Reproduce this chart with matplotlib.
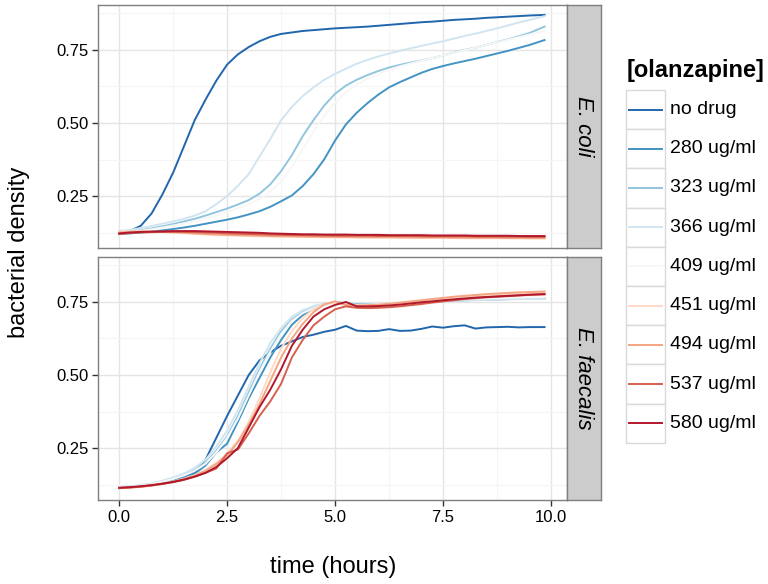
"""
Curvas de crecimiento bacteriano con olanzapina
Dos paneles (E. coli / E. faecalis) al estilo theme_bw de ggplot
"""
import numpy as np
import matplotlib
matplotlib.use('Agg')
import matplotlib.pyplot as plt
from matplotlib.patches import Rectangle

plt.rcParams['font.family'] = ['Liberation Sans', 'DejaVu Sans']

# Datos
time_h = [0.0, 0.25, 0.5, 0.75, 1.0, 1.25, 1.5, 1.75, 2.0, 2.25,
          2.5, 2.75, 3.0, 3.25, 3.5, 3.75, 4.0, 4.25, 4.5, 4.75,
          5.0, 5.25, 5.5, 5.75, 6.0, 6.25, 6.5, 6.75, 7.0, 7.25,
          7.5, 7.75, 8.0, 8.25, 8.5, 8.75, 9.0, 9.25, 9.5, 9.85]

doses = ['no drug', '280 ug/ml', '323 ug/ml', '366 ug/ml', '409 ug/ml',
         '451 ug/ml', '494 ug/ml', '537 ug/ml', '580 ug/ml']
dose_colors = ['#2166AC', '#4393C3', '#92C5DE', '#D1E5F0', '#F7F7F7',
               '#FDDBC7', '#F4A582', '#D6604D', '#B2182B']
species = ['E. coli', 'E. faecalis']

# E. coli
ecoli_nodrug = [0.125, 0.13, 0.148, 0.19, 0.255, 0.33, 0.42, 0.51, 0.58, 0.645,
                0.70, 0.735, 0.76, 0.78, 0.795, 0.805, 0.81, 0.815, 0.818, 0.821,
                0.824, 0.826, 0.828, 0.830, 0.833, 0.836, 0.839, 0.842, 0.845, 0.847,
                0.850, 0.853, 0.855, 0.857, 0.860, 0.862, 0.864, 0.866, 0.868, 0.870]
ecoli_280 = [0.120, 0.122, 0.125, 0.128, 0.132, 0.137, 0.142, 0.148, 0.155, 0.162,
             0.169, 0.177, 0.187, 0.198, 0.213, 0.232, 0.252, 0.284, 0.325, 0.376,
             0.44, 0.495, 0.535, 0.568, 0.597, 0.622, 0.64, 0.656, 0.672, 0.685,
             0.695, 0.704, 0.712, 0.720, 0.729, 0.738, 0.747, 0.757, 0.767, 0.784]
ecoli_323 = [0.125, 0.128, 0.133, 0.139, 0.146, 0.154, 0.163, 0.172, 0.183, 0.195,
             0.207, 0.221, 0.236, 0.258, 0.29, 0.335, 0.39, 0.455, 0.51, 0.56,
             0.60, 0.628, 0.648, 0.664, 0.678, 0.69, 0.699, 0.707, 0.714, 0.722,
             0.731, 0.741, 0.750, 0.758, 0.767, 0.777, 0.786, 0.797, 0.808, 0.83]
ecoli_366 = [0.13, 0.134, 0.14, 0.147, 0.155, 0.163, 0.172, 0.183, 0.198, 0.222,
             0.25, 0.285, 0.325, 0.385, 0.445, 0.51, 0.555, 0.592, 0.622, 0.648,
             0.668, 0.686, 0.703, 0.716, 0.728, 0.738, 0.747, 0.756, 0.764, 0.772,
             0.780, 0.789, 0.798, 0.806, 0.815, 0.824, 0.834, 0.844, 0.853, 0.866]
ecoli_409 = [0.125, 0.127, 0.131, 0.136, 0.142, 0.149, 0.156, 0.164, 0.173, 0.183,
             0.195, 0.208, 0.222, 0.24, 0.265, 0.30, 0.35, 0.41, 0.47, 0.525,
             0.57, 0.605, 0.632, 0.652, 0.668, 0.682, 0.694, 0.704, 0.713, 0.722,
             0.731, 0.740, 0.749, 0.758, 0.767, 0.776, 0.785, 0.794, 0.803, 0.815]
ecoli_451 = [0.128, 0.129, 0.129, 0.128, 0.126, 0.124, 0.122, 0.12, 0.118, 0.116,
             0.115, 0.114, 0.113, 0.112, 0.111, 0.111, 0.11, 0.11, 0.109, 0.109,
             0.108, 0.108, 0.108, 0.107, 0.107, 0.107, 0.107, 0.106, 0.106, 0.106,
             0.106, 0.106, 0.105, 0.105, 0.105, 0.105, 0.105, 0.105, 0.104, 0.104]
ecoli_494 = [0.125, 0.127, 0.128, 0.128, 0.127, 0.126, 0.124, 0.122, 0.12, 0.118,
             0.117, 0.116, 0.115, 0.114, 0.113, 0.112, 0.112, 0.111, 0.111, 0.11,
             0.11, 0.11, 0.109, 0.109, 0.109, 0.109, 0.108, 0.108, 0.108, 0.108,
             0.108, 0.107, 0.107, 0.107, 0.107, 0.107, 0.106, 0.106, 0.106, 0.106]
ecoli_537 = [0.12, 0.123, 0.125, 0.126, 0.127, 0.127, 0.127, 0.126, 0.125, 0.124,
             0.122, 0.121, 0.12, 0.119, 0.118, 0.117, 0.116, 0.116, 0.115, 0.115,
             0.114, 0.114, 0.114, 0.114, 0.113, 0.113, 0.113, 0.113, 0.112, 0.112,
             0.112, 0.112, 0.112, 0.111, 0.111, 0.111, 0.111, 0.111, 0.11, 0.11]
ecoli_580 = [0.122, 0.125, 0.127, 0.128, 0.129, 0.13, 0.13, 0.13, 0.129, 0.128,
             0.127, 0.126, 0.125, 0.124, 0.122, 0.121, 0.12, 0.119, 0.119, 0.118,
             0.118, 0.118, 0.117, 0.117, 0.117, 0.116, 0.116, 0.116, 0.116, 0.115,
             0.115, 0.115, 0.115, 0.114, 0.114, 0.114, 0.114, 0.113, 0.113, 0.113]

# E. faecalis
faec_nodrug = [0.115, 0.117, 0.12, 0.125, 0.132, 0.14, 0.15, 0.165, 0.21, 0.285,
               0.36, 0.43, 0.50, 0.55, 0.578, 0.60, 0.615, 0.63, 0.638, 0.648,
               0.655, 0.668, 0.652, 0.65, 0.651, 0.657, 0.651, 0.652, 0.658, 0.666,
               0.662, 0.667, 0.670, 0.659, 0.663, 0.664, 0.665, 0.663, 0.664, 0.664]
faec_280 = [0.113, 0.115, 0.118, 0.123, 0.130, 0.139, 0.150, 0.162, 0.19, 0.235,
            0.265, 0.34, 0.42, 0.49, 0.56, 0.62, 0.672, 0.705, 0.725, 0.74,
            0.75, 0.745, 0.742, 0.742, 0.743, 0.744, 0.745, 0.747, 0.749, 0.751,
            0.753, 0.755, 0.756, 0.757, 0.758, 0.759, 0.760, 0.761, 0.762, 0.763]
faec_323 = [0.115, 0.117, 0.121, 0.127, 0.135, 0.145, 0.158, 0.175, 0.20, 0.24,
            0.29, 0.36, 0.44, 0.52, 0.59, 0.65, 0.69, 0.715, 0.73, 0.742,
            0.75, 0.744, 0.741, 0.741, 0.742, 0.744, 0.746, 0.748, 0.75, 0.752,
            0.754, 0.755, 0.756, 0.757, 0.758, 0.759, 0.76, 0.761, 0.762, 0.762]
faec_366 = [0.117, 0.119, 0.123, 0.129, 0.138, 0.149, 0.163, 0.182, 0.21, 0.255,
            0.31, 0.38, 0.46, 0.54, 0.61, 0.66, 0.70, 0.722, 0.736, 0.745,
            0.75, 0.743, 0.74, 0.74, 0.741, 0.743, 0.745, 0.747, 0.749, 0.751,
            0.753, 0.754, 0.755, 0.756, 0.757, 0.758, 0.759, 0.76, 0.76, 0.76]
faec_409 = [0.114, 0.116, 0.12, 0.126, 0.134, 0.144, 0.156, 0.172, 0.196, 0.235,
            0.285, 0.35, 0.43, 0.51, 0.58, 0.64, 0.685, 0.712, 0.728, 0.74,
            0.748, 0.742, 0.74, 0.741, 0.743, 0.745, 0.748, 0.75, 0.752, 0.754,
            0.756, 0.758, 0.76, 0.761, 0.762, 0.763, 0.764, 0.765, 0.766, 0.767]
faec_451 = [0.113, 0.115, 0.118, 0.122, 0.128, 0.135, 0.145, 0.157, 0.175, 0.2,
            0.23, 0.275, 0.34, 0.42, 0.51, 0.59, 0.65, 0.695, 0.725, 0.742,
            0.748, 0.738, 0.736, 0.737, 0.739, 0.742, 0.746, 0.75, 0.754, 0.758,
            0.762, 0.765, 0.768, 0.771, 0.773, 0.775, 0.777, 0.779, 0.78, 0.781]
faec_494 = [0.112, 0.114, 0.117, 0.121, 0.127, 0.134, 0.143, 0.155, 0.172, 0.195,
            0.225, 0.27, 0.33, 0.40, 0.48, 0.56, 0.625, 0.675, 0.715, 0.742,
            0.752, 0.74, 0.738, 0.739, 0.741, 0.744, 0.748, 0.752, 0.756, 0.760,
            0.764, 0.768, 0.771, 0.774, 0.777, 0.779, 0.781, 0.783, 0.784, 0.786]
faec_537 = [0.113, 0.115, 0.118, 0.122, 0.127, 0.133, 0.141, 0.152, 0.165, 0.18,
            0.232, 0.245, 0.30, 0.36, 0.41, 0.47, 0.56, 0.62, 0.67, 0.70,
            0.725, 0.735, 0.73, 0.729, 0.73, 0.732, 0.735, 0.739, 0.743, 0.748,
            0.752, 0.756, 0.76, 0.763, 0.766, 0.768, 0.77, 0.772, 0.774, 0.776]
faec_580 = [0.114, 0.116, 0.119, 0.123, 0.128, 0.134, 0.142, 0.152, 0.165, 0.185,
            0.215, 0.25, 0.32, 0.39, 0.45, 0.52, 0.60, 0.655, 0.70, 0.725,
            0.74, 0.75, 0.735, 0.735, 0.736, 0.738, 0.741, 0.745, 0.749, 0.752,
            0.756, 0.759, 0.762, 0.765, 0.767, 0.769, 0.771, 0.773, 0.775, 0.777]

ecoli_series = [ecoli_nodrug, ecoli_280, ecoli_323, ecoli_366, ecoli_409,
                ecoli_451, ecoli_494, ecoli_537, ecoli_580]
faec_series = [faec_nodrug, faec_280, faec_323, faec_366, faec_409,
               faec_451, faec_494, faec_537, faec_580]

x_ticks = [0.0, 2.5, 5.0, 7.5, 10.0]
y_ticks = [0.25, 0.50, 0.75]

# Figura (pixeles -> fracciones)
W, H = 768, 584
fig = plt.figure(figsize=(W / 100, H / 100), dpi=100)


def px_box(x0, y0, x1, y1):
    return [x0 / W, 1 - y1 / H, (x1 - x0) / W, (y1 - y0) / H]


panel_boxes = [(98, 5, 567, 248), (98, 257, 567, 500)]
grey_border = '#7F7F7F'

for i, (name, series) in enumerate(zip(species, [ecoli_series, faec_series])):
    x0, y0, x1, y1 = panel_boxes[i]
    ax = fig.add_axes(px_box(x0, y0, x1, y1))

    # grid tipo theme_bw
    ax.set_xticks([1.25, 3.75, 6.25, 8.75], minor=True)
    ax.set_yticks([0.125, 0.375, 0.625, 0.875], minor=True)
    ax.grid(True, which='major', color='#E5E5E5', linewidth=1.0)
    ax.grid(True, which='minor', color='#F5F5F5', linewidth=0.8)
    ax.set_axisbelow(True)

    for vals, col in zip(series, dose_colors):
        ax.plot(time_h, vals, color=col, linewidth=1.4)

    ax.set_xlim(-0.49, 10.37)
    ax.set_ylim(0.072, 0.904)
    ax.set_xticks(x_ticks)
    ax.set_yticks(y_ticks)
    ax.set_yticklabels([f'{v:.2f}' for v in y_ticks], fontsize=12)
    ax.tick_params(which='major', length=4, width=1, color='#333333', pad=3)
    ax.tick_params(which='minor', length=0)
    if i == 1:
        ax.set_xticklabels([f'{v:.1f}' for v in x_ticks], fontsize=12)
    else:
        ax.tick_params(axis='x', which='major', length=0, labelbottom=False)
    for sp in ax.spines.values():
        sp.set_color(grey_border)
        sp.set_linewidth(1.0)

    # strip de la faceta
    sax = fig.add_axes(px_box(567, y0, 601, y1))
    sax.set_facecolor('#CCCCCC')
    sax.set_xticks([])
    sax.set_yticks([])
    for sp in sax.spines.values():
        sp.set_color(grey_border)
        sp.set_linewidth(1.0)
    sax.text(0.5, 0.5, name, rotation=-90, style='italic', fontsize=16,
             ha='center', va='center', transform=sax.transAxes)

# titulos de ejes
fig.text(333 / W, 1 - 567 / H, 'time (hours)', fontsize=17, ha='center', va='center')
fig.text(19 / W, 1 - 252 / H, 'bacterial density', fontsize=17, rotation=90,
         ha='center', va='center')

# Leyenda manual (cajas estilo ggplot)
lax = fig.add_axes(px_box(615, 50, 768, 450))
lax.set_xlim(615, 768)
lax.set_ylim(450, 50)
lax.axis('off')
lax.text(627, 70, '[olanzapine]', fontsize=17, fontweight='bold', ha='left', va='center')
key_h = 39.2
for k, (lab, col) in enumerate(zip(doses, dose_colors)):
    top = 90 + k * key_h
    lax.add_patch(Rectangle((626, top), 39, key_h, facecolor='white',
                            edgecolor='#D9D9D9', linewidth=1.0))
    yc = top + key_h / 2
    lax.plot([629, 662], [yc, yc], color=col, linewidth=1.4)
    lax.text(670, yc, lab, fontsize=14, ha='left', va='center')

plt.savefig('out.png', dpi=100)
print("[OK] Grafica guardada: out.png")
